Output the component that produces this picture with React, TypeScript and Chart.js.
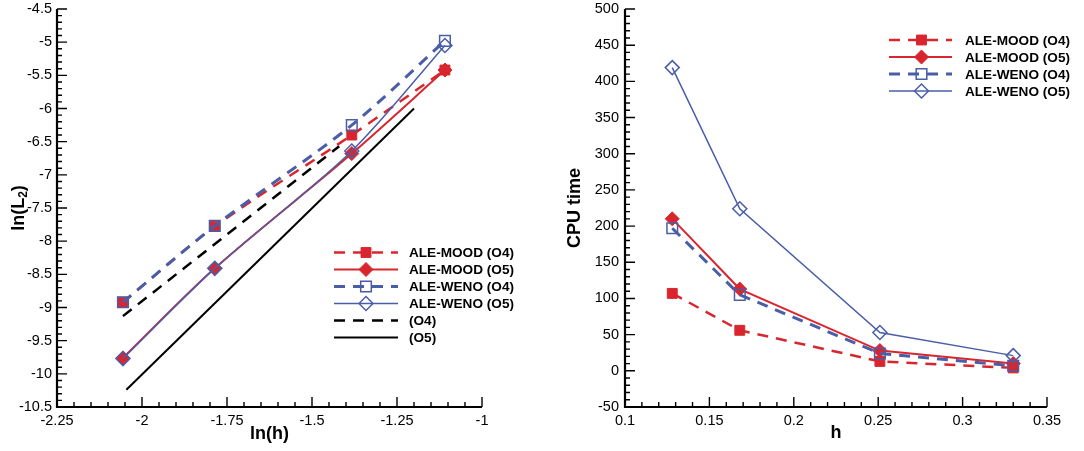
import React, { useEffect, useRef } from 'react';
import { Chart, registerables } from 'chart.js';

Chart.register(...registerables);

const FONT = '"Liberation Sans", Arial, Helvetica, sans-serif';
const RED = '#d9262e';
const BLUE = '#4a5ea8';
const BLACK = '#000000';

// ---------- Left chart (convergence) ----------
const lnH = [-2.056, -1.786, -1.383, -1.109];
const lnMoodO4 = [-8.92, -7.78, -6.4, -5.42];
const lnMoodO5 = [-9.76, -8.41, -6.68, -5.42];
const lnWenoO4 = [-8.92, -7.77, -6.25, -4.98];
const lnWenoO5 = [-9.77, -8.41, -6.64, -5.05];
const refO4X = [-2.056, -1.42];
const refO4Y = [-9.13, -6.57];
const refO5X = [-2.046, -1.2];
const refO5Y = [-10.24, -6.0];

const leftXTicks = [-2.25, -2, -1.75, -1.5, -1.25, -1];
const leftYTicks = [-10.5, -10, -9.5, -9, -8.5, -8, -7.5, -7, -6.5, -6, -5.5, -5, -4.5];

// ---------- Right chart (CPU time) ----------
const hVals = [0.128, 0.168, 0.251, 0.33];
const cpuMoodO4 = [107, 56, 13, 4];
const cpuMoodO5 = [210, 113, 28, 10];
const cpuWenoO4 = [197, 105, 24, 7];
const cpuWenoO5 = [419, 224, 53, 21];

const rightXTicks = [0.1, 0.15, 0.2, 0.25, 0.3, 0.35];
const rightYTicks = [-50, 0, 50, 100, 150, 200, 250, 300, 350, 400, 450, 500];

const seriesLabels = ['ALE-MOOD (O4)', 'ALE-MOOD (O5)', 'ALE-WENO (O4)', 'ALE-WENO (O5)', '(O4)', '(O5)'];

type Marker = 'rect' | 'rectRot' | null;
type Style = { color: string; width: number; dash: number[]; marker: Marker; filled: boolean; radius: number };

const styles: Style[] = [
  { color: RED, width: 2.5, dash: [11, 8], marker: 'rect', filled: true, radius: 7 },
  { color: RED, width: 2, dash: [], marker: 'rectRot', filled: true, radius: 7 },
  { color: BLUE, width: 3, dash: [11, 8], marker: 'rect', filled: false, radius: 7.5 },
  { color: BLUE, width: 1.5, dash: [], marker: 'rectRot', filled: false, radius: 7 },
  { color: BLACK, width: 2.5, dash: [11, 8], marker: null, filled: false, radius: 0 },
  { color: BLACK, width: 2, dash: [], marker: null, filled: false, radius: 0 },
];

function pts(xs: number[], ys: number[]) {
  return xs.map((x, i) => ({ x, y: ys[i] }));
}

function makeDataset(idx: number, data: { x: number; y: number }[], tension: number, order: number) {
  const s = styles[idx];
  return {
    label: seriesLabels[idx],
    data,
    borderColor: s.color,
    borderWidth: s.width,
    borderDash: s.dash,
    backgroundColor: s.color,
    fill: false,
    tension,
    order,
    pointStyle: s.marker || 'circle',
    pointRadius: s.radius,
    pointHoverRadius: s.radius,
    pointBackgroundColor: s.filled ? s.color : 'rgba(0,0,0,0)',
    pointBorderColor: s.color,
    pointBorderWidth: s.filled ? 1 : 1.5,
  };
}

function drawMarker(ctx: CanvasRenderingContext2D, s: Style, x: number, y: number) {
  if (!s.marker) return;
  const r = s.radius;
  ctx.save();
  ctx.setLineDash([]);
  ctx.beginPath();
  if (s.marker === 'rect') {
    const h = Math.SQRT1_2 * r;
    ctx.rect(x - h, y - h, 2 * h, 2 * h);
  } else {
    ctx.moveTo(x - r, y);
    ctx.lineTo(x, y - r);
    ctx.lineTo(x + r, y);
    ctx.lineTo(x, y + r);
    ctx.closePath();
  }
  if (s.filled) {
    ctx.fillStyle = s.color;
    ctx.fill();
  }
  ctx.strokeStyle = s.color;
  ctx.lineWidth = s.filled ? 1 : 1.5;
  ctx.stroke();
  ctx.restore();
}

function linearAxis(ticks: number[], isX: boolean, size: number, pad: number) {
  return {
    type: 'linear' as const,
    position: isX ? 'bottom' : 'left',
    min: ticks[0],
    max: ticks[ticks.length - 1],
    afterBuildTicks: (scale: any) => {
      scale.ticks = ticks.map((v) => ({ value: v }));
    },
    afterFit: (scale: any) => {
      if (isX) scale.height = size;
      else scale.width = size;
      scale.paddingLeft = 0;
      scale.paddingRight = 0;
      scale.paddingTop = 0;
      scale.paddingBottom = 0;
    },
    grid: { display: false, drawTicks: false, drawOnChartArea: false },
    border: { display: false },
    ticks: {
      autoSkip: false,
      maxRotation: 0,
      minRotation: 0,
      padding: pad,
      color: '#000',
      font: { family: FONT, size: 14.5 },
      callback: (v: any) => String(Number(Number(v).toFixed(4))),
    },
  };
}

type DecorCfg = {
  xTicks: number[];
  yTicks: number[];
  xTitle: string;
  xTitleY: number;
  yTitleX: number;
  drawYTitle: (ctx: CanvasRenderingContext2D) => void;
  legend: { x0: number; x1: number; mx: number; tx: number; y0: number; dy: number; items: number[] };
};

function decorPlugin(cfg: DecorCfg) {
  return {
    id: 'decor',
    afterDraw(chart: any) {
      const ctx: CanvasRenderingContext2D = chart.ctx;
      const { left, right, top, bottom } = chart.chartArea;
      const xs = chart.scales.x;
      const ys = chart.scales.y;
      ctx.save();
      ctx.setLineDash([]);
      ctx.strokeStyle = '#000';
      // axis lines
      ctx.lineWidth = 2.2;
      ctx.beginPath();
      ctx.moveTo(left, top);
      ctx.lineTo(left, bottom);
      ctx.lineTo(right, bottom);
      ctx.stroke();
      // ticks
      ctx.lineWidth = 1.4;
      ctx.beginPath();
      const xt = cfg.xTicks;
      for (let i = 0; i < xt.length; i++) {
        const px = xs.getPixelForValue(xt[i]);
        ctx.moveTo(px, bottom);
        ctx.lineTo(px, bottom - 10);
        if (i < xt.length - 1) {
          const st = (xt[i + 1] - xt[i]) / 5;
          for (let k = 1; k < 5; k++) {
            const mx = xs.getPixelForValue(xt[i] + st * k);
            ctx.moveTo(mx, bottom);
            ctx.lineTo(mx, bottom - 5);
          }
        }
      }
      const yt = cfg.yTicks;
      for (let i = 0; i < yt.length; i++) {
        const py = ys.getPixelForValue(yt[i]);
        ctx.moveTo(left, py);
        ctx.lineTo(left + 10, py);
        if (i < yt.length - 1) {
          const st = (yt[i + 1] - yt[i]) / 5;
          for (let k = 1; k < 5; k++) {
            const my = ys.getPixelForValue(yt[i] + st * k);
            ctx.moveTo(left, my);
            ctx.lineTo(left + 5, my);
          }
        }
      }
      ctx.stroke();
      // x title
      ctx.fillStyle = '#000';
      ctx.font = `bold 18px ${FONT}`;
      ctx.textAlign = 'center';
      ctx.textBaseline = 'middle';
      ctx.fillText(cfg.xTitle, (left + right) / 2, cfg.xTitleY);
      // y title
      ctx.save();
      ctx.translate(cfg.yTitleX, (top + bottom) / 2);
      ctx.rotate(-Math.PI / 2);
      cfg.drawYTitle(ctx);
      ctx.restore();
      // legend
      const lg = cfg.legend;
      lg.items.forEach((idx, i) => {
        const s = styles[idx];
        const y = lg.y0 + i * lg.dy;
        ctx.save();
        ctx.strokeStyle = s.color;
        ctx.lineWidth = s.width;
        ctx.setLineDash(s.dash);
        ctx.beginPath();
        ctx.moveTo(lg.x0, y);
        ctx.lineTo(lg.x1, y);
        ctx.stroke();
        ctx.restore();
        drawMarker(ctx, s, lg.mx, y);
        ctx.fillStyle = '#000';
        ctx.font = `bold 13.6px ${FONT}`;
        ctx.textAlign = 'left';
        ctx.textBaseline = 'middle';
        ctx.fillText(seriesLabels[idx], lg.tx, y + 1);
      });
      ctx.restore();
    },
  };
}

function drawLnL2(ctx: CanvasRenderingContext2D) {
  ctx.fillStyle = '#000';
  ctx.textBaseline = 'middle';
  ctx.textAlign = 'left';
  const big = `bold 18px ${FONT}`;
  const small = `bold 12px ${FONT}`;
  ctx.font = big;
  const w1 = ctx.measureText('ln(L').width;
  const w3 = ctx.measureText(')').width;
  ctx.font = small;
  const w2 = ctx.measureText('2').width;
  const start = -(w1 + w2 + w3) / 2;
  ctx.font = big;
  ctx.fillText('ln(L', start, 0);
  ctx.font = small;
  ctx.fillText('2', start + w1, 5);
  ctx.font = big;
  ctx.fillText(')', start + w1 + w2, 0);
}

function drawCpu(ctx: CanvasRenderingContext2D) {
  ctx.fillStyle = '#000';
  ctx.textBaseline = 'middle';
  ctx.textAlign = 'center';
  ctx.font = `bold 18px ${FONT}`;
  ctx.fillText('CPU time', 0, 0);
}

export default function App() {
  const leftRef = useRef<HTMLCanvasElement | null>(null);
  const rightRef = useRef<HTMLCanvasElement | null>(null);

  useEffect(() => {
    document.body.style.margin = '0';
    const T = 0.3;
    const left = new Chart(leftRef.current as HTMLCanvasElement, {
      type: 'line',
      data: {
        datasets: [
          makeDataset(0, pts(lnH, lnMoodO4), T, 3),
          makeDataset(1, pts(lnH, lnMoodO5), T, 3),
          makeDataset(2, pts(lnH, lnWenoO4), T, 1),
          makeDataset(3, pts(lnH, lnWenoO5), T, 1),
          makeDataset(4, pts(refO4X, refO4Y), 0, 4),
          makeDataset(5, pts(refO5X, refO5Y), 0, 4),
        ] as any,
      },
      options: {
        responsive: false,
        animation: false,
        devicePixelRatio: 1,
        events: [],
        layout: { padding: { left: 0, top: 7, right: 58, bottom: 0 } },
        plugins: { legend: { display: false }, tooltip: { enabled: false } },
        scales: {
          x: linearAxis(leftXTicks, true, 44, 5),
          y: linearAxis(leftYTicks, false, 57, 5),
        } as any,
      },
      plugins: [
        decorPlugin({
          xTicks: leftXTicks,
          yTicks: leftYTicks,
          xTitle: 'ln(h)',
          xTitleY: 434,
          yTitleX: 19,
          drawYTitle: drawLnL2,
          legend: { x0: 334, x1: 398, mx: 366, tx: 409, y0: 252.5, dy: 17, items: [0, 1, 2, 3, 4, 5] },
        }),
      ],
    });

    const right = new Chart(rightRef.current as HTMLCanvasElement, {
      type: 'line',
      data: {
        datasets: [
          makeDataset(0, pts(hVals, cpuMoodO4), 0, 3),
          makeDataset(1, pts(hVals, cpuMoodO5), 0, 3),
          makeDataset(2, pts(hVals, cpuWenoO4), 0, 1),
          makeDataset(3, pts(hVals, cpuWenoO5), 0, 1),
        ] as any,
      },
      options: {
        responsive: false,
        animation: false,
        devicePixelRatio: 1,
        events: [],
        layout: { padding: { left: 0, top: 7, right: 37, bottom: 0 } },
        plugins: { legend: { display: false }, tooltip: { enabled: false } },
        scales: {
          x: linearAxis(rightXTicks, true, 44, 5),
          y: linearAxis(rightYTicks, false, 85, 6),
        } as any,
      },
      plugins: [
        decorPlugin({
          xTicks: rightXTicks,
          yTicks: rightYTicks,
          xTitle: 'h',
          xTitleY: 433,
          yTitleX: 35,
          drawYTitle: drawCpu,
          legend: { x0: 349, x1: 412, mx: 381.5, tx: 425, y0: 40, dy: 17, items: [0, 1, 2, 3] },
        }),
      ],
    });

    return () => {
      left.destroy();
      right.destroy();
    };
  }, []);

  return (
    <div style={{ position: 'relative', width: 1084, height: 451, background: '#fff' }}>
      <canvas ref={leftRef} width={540} height={451} style={{ position: 'absolute', left: 0, top: 0, width: 540, height: 451 }} />
      <canvas ref={rightRef} width={544} height={451} style={{ position: 'absolute', left: 540, top: 0, width: 544, height: 451 }} />
    </div>
  );
}
